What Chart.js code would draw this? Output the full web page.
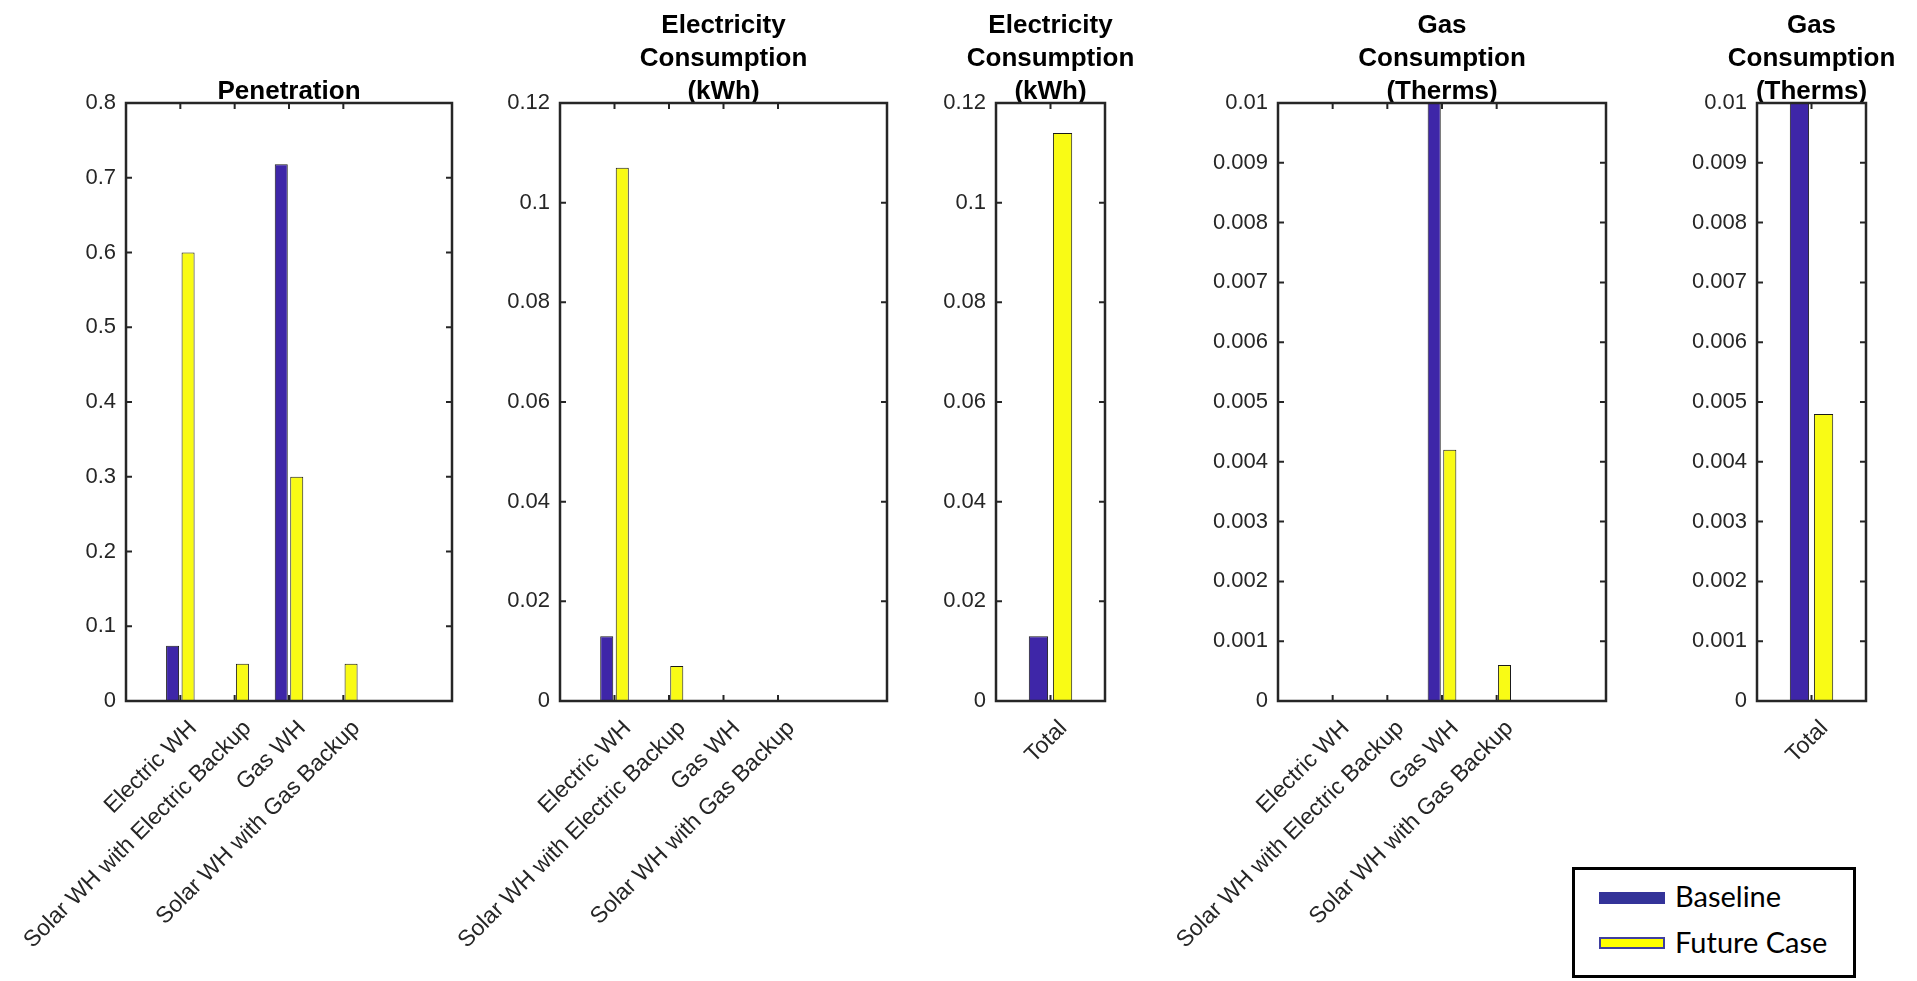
<!DOCTYPE html>
<html>
<head>
<meta charset="utf-8">
<script src="https://cdn.jsdelivr.net/npm/chart.js@4.4.1/dist/chart.umd.min.js"></script>
<style>
html,body{margin:0;padding:0;background:#fff;}
#wrap{position:relative;width:1917px;height:981px;overflow:hidden;background:#fff;}
#wrap canvas{position:absolute;left:0;top:0;}
#legend{position:absolute;left:1572px;top:867px;width:284px;height:111px;box-sizing:border-box;border:3px solid #000;background:#fff;
	font-family:Lato,"Open Sans",sans-serif;font-size:29px;line-height:1.2;color:#000;}
#legend .sw{position:absolute;left:24px;width:66px;height:12px;box-sizing:border-box;}
#legend .lb{position:absolute;left:100px;white-space:nowrap;}
</style>
</head>
<body>
<div id="wrap">
	<div id="legend"></div>
</div>
<script>
/* values */
const typeLabels=['Electric WH','Solar WH with Electric Backup','Gas WH','Solar WH with Gas Backup'];
const totalLabels=['Total'];
const seriesNames=['Baseline','Future Case'];
const penetrationBaseline=[0.074,0,0.718,0];
const penetrationFuture=[0.6,0.05,0.3,0.05];
const elecBaseline=[0.013,0,0,0];
const elecFuture=[0.107,0.007,0,0];
const elecTotalBaseline=[0.013];
const elecTotalFuture=[0.114];
const gasBaseline=[0,0,0.0101,0];   // runs off the top of the axes
const gasFuture=[0,0,0.0042,0.0006];
const gasTotalBaseline=[0.0101];    // runs off the top of the axes
const gasTotalFuture=[0.0048];
const titlePenetration=['Penetration'];
const titleElec=['Electricity','Consumption','(kWh)'];
const titleGas=['Gas','Consumption','(Therms)'];

/* look */
const W=1917,H=981,PLOT_TOP=103,PLOT_BOTTOM=701,Y_W=100,LINE_H=33,TITLE_DROP=5;
const FONT='"Liberation Sans",Arial,Helvetica,sans-serif';
const AX_COL='#262626';
const barFill=['#3e26a8','#f9fb15'];
const legendFill=['#343399','#ffff00'];

/* MATLAB keeps an empty slot left of the first bar group and two on the right */
const padCats=function(a,n){let o=[''];for(let i=0;i<a.length;i++){o.push(a[i]);}for(let i=0;i<n;i++){o.push('');}return o;};
const padVals=function(a,n){let o=[null];for(let i=0;i<a.length;i++){o.push(a[i]);}for(let i=0;i<n;i++){o.push(null);}return o;};

const panels=[
	{title:titlePenetration,labels:padCats(typeLabels,2),base:padVals(penetrationBaseline,2),fut:padVals(penetrationFuture,2),ymax:0.8,step:0.1,left:126,right:452,cat:0.57,bar:0.84},
	{title:titleElec,labels:padCats(typeLabels,2),base:padVals(elecBaseline,2),fut:padVals(elecFuture,2),ymax:0.12,step:0.02,left:560,right:887,cat:0.57,bar:0.84},
	{title:titleElec,labels:padCats(totalLabels,1),base:padVals(elecTotalBaseline,1),fut:padVals(elecTotalFuture,1),ymax:0.12,step:0.02,left:996,right:1105,cat:0.885,bar:0.8},
	{title:titleGas,labels:padCats(typeLabels,2),base:padVals(gasBaseline,2),fut:padVals(gasFuture,2),ymax:0.01,step:0.001,left:1278,right:1606,cat:0.57,bar:0.84},
	{title:titleGas,labels:padCats(totalLabels,1),base:padVals(gasTotalBaseline,1),fut:padVals(gasTotalFuture,1),ymax:0.01,step:0.001,left:1757,right:1866,cat:0.885,bar:0.8},
];

/* box round the axes and inward ticks, like MATLAB */
const matlabFrame={id:'matlabFrame',afterDraw:function(chart){
	const ctx=chart.ctx,a=chart.chartArea,x=chart.scales.x,y=chart.scales.y,tl=6;
	ctx.save();ctx.strokeStyle=AX_COL;ctx.lineWidth=2;ctx.beginPath();
	for(let i=0;i<x.ticks.length;i++){if(!x.ticks[i].label){continue}
		let px=x.getPixelForTick(i);
		ctx.moveTo(px,a.bottom);ctx.lineTo(px,a.bottom-tl);ctx.moveTo(px,a.top);ctx.lineTo(px,a.top+tl);}
	for(let i=0;i<y.ticks.length;i++){let py=y.getPixelForTick(i);
		ctx.moveTo(a.left,py);ctx.lineTo(a.left+tl,py);ctx.moveTo(a.right,py);ctx.lineTo(a.right-tl,py);}
	ctx.stroke();
	ctx.lineWidth=2.5;ctx.strokeRect(a.left,a.top,a.right-a.left,a.bottom-a.top);
	ctx.restore();
}};

const wrap=document.getElementById('wrap');
const makePanel=function(p){
	let cv=document.createElement('canvas');cv.width=W;cv.height=H;wrap.insertBefore(cv,document.getElementById('legend'));
	let ds=function(k,vals){return {label:seriesNames[k],data:vals,backgroundColor:barFill[k],borderColor:'#1a1a1a',borderWidth:1,
		categoryPercentage:p.cat,barPercentage:p.bar,clip:0,yAxisID:'y'};};
	return new Chart(cv,{type:'bar',
		data:{labels:p.labels,datasets:[ds(0,p.base),ds(1,p.fut)]},
		options:{responsive:false,animation:false,events:[],
			// the empty right axis (y2) is only there so the title centres over the plot
			layout:{padding:{left:p.left-Y_W,right:W-p.right-Y_W,top:PLOT_TOP-p.title.length*LINE_H,bottom:0}},
			plugins:{legend:{display:false},tooltip:{enabled:false},
				title:{display:true,text:p.title,color:'#000',padding:{top:TITLE_DROP,bottom:-TITLE_DROP},
					font:{family:FONT,size:26,weight:'bold',lineHeight:LINE_H/26}}},
			scales:{
				x:{offset:false,grid:{display:false,drawTicks:false},border:{display:false},
					ticks:{autoSkip:false,maxRotation:45,minRotation:45,color:AX_COL,padding:14,labelOffset:13,font:{family:FONT,size:23}},
					afterFit:function(s){s.height=H-PLOT_BOTTOM;}},
				y:{min:0,max:p.ymax,grid:{display:false,drawTicks:false},border:{display:false},
					ticks:{stepSize:p.step,maxTicksLimit:20,color:AX_COL,padding:10,font:{family:FONT,size:22},
						callback:function(v){return String(+v.toFixed(4));}},
					afterFit:function(s){s.width=Y_W;}},
				y2:{type:'linear',position:'right',grid:{display:false,drawTicks:false},border:{display:false},
					ticks:{display:false},afterFit:function(s){s.width=Y_W;}}
			}},
		plugins:[matlabFrame]});
};
for(let i=0;i<panels.length;i++){makePanel(panels[i]);}

/* legend */
const lg=document.getElementById('legend');
const swTop=[22,67],lbTop=[9,55];
for(let k=0;k<seriesNames.length;k++){
	let sw=document.createElement('div');sw.className='sw';sw.style.top=swTop[k]+'px';sw.style.background=legendFill[k];
	if(k==1){sw.style.border='2px solid #3f3f9f';}
	lg.appendChild(sw);
	let lb=document.createElement('div');lb.className='lb';lb.style.top=lbTop[k]+'px';lb.textContent=seriesNames[k];
	lg.appendChild(lb);
}
</script>
</body>
</html>
